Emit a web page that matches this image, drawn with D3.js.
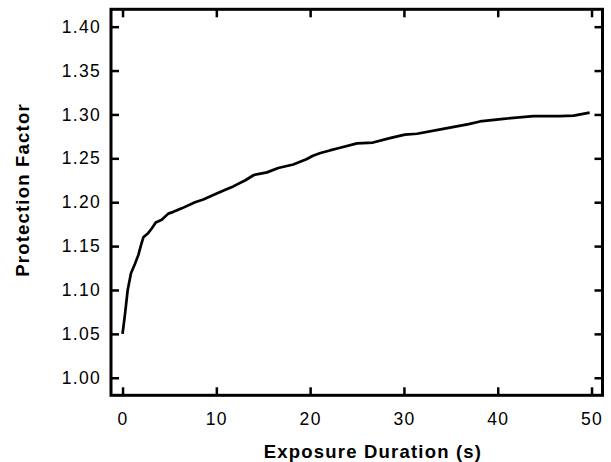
<!DOCTYPE html>
<html>
<head>
<meta charset="utf-8">
<script src="https://cdn.jsdelivr.net/npm/d3@7"></script>
<style>
    body { margin: 0; background: #fff; }
    svg text { font-family: "Liberation Sans", Arial, Helvetica, sans-serif; fill: #000; }
</style>
</head>
<body>
<div id="chart"></div>
<script>
// exposure time (s) and protection factor
const times = [0, 0.27, 0.55, 0.9, 1.33, 1.69, 1.97, 2.22, 2.75, 3.11, 3.54, 4.18, 4.88, 5.42, 6.31, 7.73, 8.61, 9.86,
    10.9, 11.8, 13.1, 14.0, 15.4, 16.6, 18.2, 19.6, 20.3, 21.1, 22.1, 23.2, 25.0, 26.7, 28.5, 30.1, 31.4, 33.9, 36.9,
    38.1, 40.6, 43.8, 46.6, 48.1, 49.8];
const protection = [1.050, 1.073, 1.100, 1.119, 1.130, 1.140, 1.151, 1.160, 1.165, 1.170, 1.177, 1.180, 1.187, 1.189,
    1.193, 1.200, 1.203, 1.209, 1.214, 1.218, 1.225, 1.231, 1.234, 1.239, 1.243, 1.249, 1.253, 1.256, 1.259, 1.262,
    1.267, 1.268, 1.273, 1.277, 1.278, 1.283, 1.289, 1.292, 1.295, 1.298, 1.298, 1.2986, 1.302];
const xTicks = [0, 10, 20, 30, 40, 50];
const yTicks = [1.00, 1.05, 1.10, 1.15, 1.20, 1.25, 1.30, 1.35, 1.40];

const width = 611, height = 462;
const margin = {top: 9.3, right: 8.5, bottom: 66.7, left: 111};
const innerW = width - margin.left - margin.right;
const innerH = height - margin.top - margin.bottom;

const points = times.map((t, i) => ({t: t, v: protection[i]}));

const svg = d3.select("#chart").append("svg")
    .attr("width", width)
    .attr("height", height);

const g = svg.append("g")
    .attr("transform", `translate(${margin.left},${margin.top})`);

const x = d3.scaleLinear().domain([-1.23, 51.17]).range([0, innerW]);
const y = d3.scaleLinear().domain([0.98, 1.4198]).range([innerH, 0]);

const tickLen = 8;

// axes, ticks pointing inward on all four sides
const axisB = g.append("g")
    .attr("transform", `translate(0,${innerH})`)
    .call(d3.axisBottom(x).tickValues(xTicks).tickSizeInner(-tickLen).tickSizeOuter(0).tickPadding(17));
const axisT = g.append("g")
    .call(d3.axisTop(x).tickValues(xTicks).tickSizeInner(-tickLen).tickSizeOuter(0).tickFormat(""));
const axisL = g.append("g")
    .call(d3.axisLeft(y).tickValues(yTicks).tickSizeInner(-tickLen).tickSizeOuter(0).tickPadding(10)
        .tickFormat(d3.format(".2f")));
const axisR = g.append("g")
    .attr("transform", `translate(${innerW},0)`)
    .call(d3.axisRight(y).tickValues(yTicks).tickSizeInner(-tickLen).tickSizeOuter(0).tickFormat(""));

[axisB, axisT, axisL, axisR].forEach(a => {
    a.select(".domain").remove();
    a.selectAll(".tick line").attr("stroke", "#000").attr("stroke-width", 2.5);
    a.selectAll(".tick text")
        .style("font-size", "17.5px")
        .style("letter-spacing", "1.3px")
        .attr("fill", "#000");
});

// frame
g.append("rect")
    .attr("x", 0)
    .attr("y", 0)
    .attr("width", innerW)
    .attr("height", innerH)
    .attr("fill", "none")
    .attr("stroke", "#000")
    .attr("stroke-width", 3);

// curve
const line = d3.line()
    .x(d => x(d.t))
    .y(d => y(d.v));

g.append("path")
    .datum(points)
    .attr("d", line)
    .attr("fill", "none")
    .attr("stroke", "#000")
    .attr("stroke-width", 2.7)
    .attr("stroke-linejoin", "round");

// titles
svg.append("text")
    .attr("x", 373)
    .attr("y", 458)
    .attr("text-anchor", "middle")
    .style("font-size", "18.5px")
    .style("font-weight", "700")
    .style("letter-spacing", "1.2px")
    .text("Exposure Duration (s)");

svg.append("text")
    .attr("transform", "translate(29,190) rotate(-90)")
    .attr("text-anchor", "middle")
    .style("font-size", "18.5px")
    .style("font-weight", "700")
    .style("letter-spacing", "1.2px")
    .text("Protection Factor");
</script>
</body>
</html>
